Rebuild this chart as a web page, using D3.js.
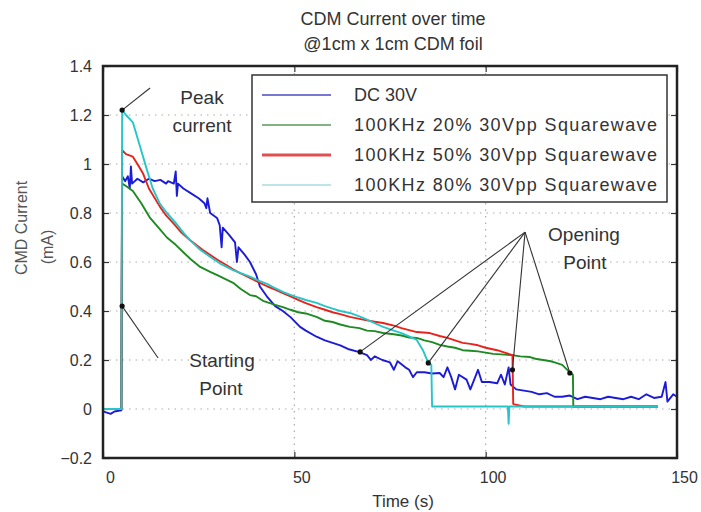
<!DOCTYPE html>
<html>
<head>
<meta charset="utf-8">
<script src="https://cdn.jsdelivr.net/npm/d3@7"></script>
<style>
  body { margin: 0; background: #fff; }
  svg { display: block; font-family: "Liberation Sans", Arial, sans-serif; }
</style>
</head>
<body>
<svg id="chart" width="701" height="512"></svg>
<script>
// ---------- data (time s, current mA) ----------
const dc30 = [
  [0,-0.01],[1,-0.015],[2,-0.02],[3,-0.01],[4.8,-0.005],[5,0.95],[5.8,0.93],[6.5,0.95],[7,0.9],[7.3,0.99],
  [7.6,0.92],[9,0.94],[10.5,0.925],[12,0.94],[13.5,0.93],[15,0.935],[16.5,0.92],[17,0.93],[18.5,0.92],[19,0.97],
  [19.3,0.87],[19.6,0.92],[21,0.9],[23,0.88],[25,0.86],[26.5,0.84],[27,0.82],[27.3,0.86],[28,0.8],[29.8,0.78],
  [30.5,0.75],[31,0.66],[31.3,0.74],[33,0.71],[34.5,0.68],[35,0.6],[35.4,0.66],[37,0.63],[38.4,0.6],[40,0.55],
  [41,0.5],[42.8,0.46],[45,0.42],[47,0.4],[49,0.375],[51.5,0.335],[53,0.32],[55.8,0.295],[58,0.28],[60,0.27],
  [62,0.26],[64,0.245],[67,0.232],[69,0.22],[70,0.2],[71,0.215],[73,0.2],[75,0.19],[76,0.16],[77,0.195],
  [79,0.17],[80,0.16],[81,0.13],[82,0.15],[84,0.15],[86,0.145],[88,0.147],[89,0.13],[90,0.17],[91,0.13],
  [92,0.08],[93,0.14],[95,0.12],[96,0.08],[97,0.12],[98,0.16],[99,0.11],[101,0.11],[103,0.105],[104,0.14],
  [105,0.1],[106,0.17],[106.5,0.1],[108,0.08],[110,0.075],[112,0.07],[114,0.06],[116,0.065],[118,0.05],[120,0.05],
  [122,0.055],[124,0.04],[126,0.05],[128,0.045],[130,0.04],[132,0.05],[134,0.045],[136,0.04],[138,0.05],[140,0.04],
  [142,0.06],[144,0.045],[146,0.05],[147,0.11],[147.5,0.03],[149,0.06],[150,0.05]
];
const sq20 = [
  [0,0],[4.8,0],[5,0.92],[6,0.91],[7.8,0.89],[10,0.84],[12.3,0.78],[14.5,0.74],[16.7,0.7],[19,0.67],
  [21,0.64],[23,0.61],[25.4,0.58],[28,0.56],[30,0.545],[34,0.515],[36,0.49],[38.4,0.465],[40,0.46],[42,0.44],
  [45,0.425],[47,0.416],[49,0.405],[51,0.395],[53,0.39],[55.8,0.376],[58,0.36],[60,0.355],[62,0.345],[64.5,0.335],
  [67,0.33],[69,0.32],[71,0.318],[73.2,0.31],[76,0.305],[78,0.3],[80,0.292],[82,0.29],[84,0.28],[86,0.273],
  [88,0.262],[90,0.255],[92,0.25],[94,0.24],[96,0.238],[98,0.235],[100,0.23],[102,0.225],[105,0.222],[107,0.22],
  [109,0.215],[111.6,0.212],[113,0.205],[115,0.2],[117,0.195],[118,0.19],[120,0.18],[121,0.165],[122,0.15],[122.8,0.14],
  [122.9,0.01],[130,0.01],[140,0.01],[145,0.01]
];
const sq50 = [
  [0,0],[4.8,0],[5,1.057],[6,1.04],[7.8,1.03],[9,1.0],[10.5,0.96],[12,0.9],[14.9,0.825],[16.5,0.79],
  [18.3,0.76],[20.5,0.72],[22.7,0.69],[26,0.65],[29.8,0.61],[32,0.59],[34,0.57],[36,0.553],[38.4,0.535],[41,0.515],
  [43,0.5],[45,0.487],[47,0.473],[49,0.46],[51,0.445],[53,0.432],[55.8,0.416],[58,0.405],[60,0.395],[62,0.387],
  [64.5,0.376],[67,0.368],[69,0.362],[71,0.356],[73.2,0.351],[76,0.34],[78,0.33],[80,0.322],[82,0.314],[85.4,0.31],
  [88,0.298],[90,0.29],[92,0.28],[94,0.27],[96,0.266],[98,0.26],[100,0.25],[103,0.24],[105,0.23],[107,0.22],
  [107.2,0.02],[110,0.01],[120,0.01],[130,0.01],[140,0.01],[145,0.01]
];
const sq80 = [
  [0,0],[4.8,0],[5,1.22],[6,1.2],[7.8,1.17],[9.7,1.07],[11.5,0.975],[13,0.9],[14.8,0.84],[16.7,0.8],
  [19,0.76],[21,0.72],[23,0.685],[25.4,0.65],[29,0.61],[31,0.59],[34,0.567],[36,0.555],[38.4,0.54],[41,0.522],
  [43,0.51],[45,0.493],[47,0.478],[49,0.466],[51,0.455],[53,0.445],[55.8,0.433],[58,0.42],[60,0.41],[62,0.4],
  [64.5,0.392],[67,0.378],[69,0.365],[71,0.35],[73.2,0.335],[76,0.32],[78,0.31],[80,0.296],[82,0.282],[83.6,0.24],
  [85,0.188],[85.8,0.18],[86,0.01],[90,0.01],[100,0.01],[105.8,0.01],[106,-0.06],[106.2,0.01],[110,0.01],[120,0.01],
  [130,0.01],[140,0.01],[145,0.01]
];

const seriesNames = ["DC 30V", "100KHz 20% 30Vpp Squarewave", "100KHz 50% 30Vpp Squarewave", "100KHz 80% 30Vpp Squarewave"];
const seriesData = [dc30, sq20, sq50, sq80];
const seriesColors = ["#1c1cd6", "#1e8a22", "#e8221c", "#26c6c8"];
const legendColors = ["#4a4ac4", "#5a9a5a", "#e05050", "#a8dcdc"];
const legendWidths = [1.5, 1.5, 3, 1.5];

const xTicks = [0, 50, 100, 150];
const yTicks = [-0.2, 0, 0.2, 0.4, 0.6, 0.8, 1, 1.2, 1.4];

// annotation points (time, mA)
const peakDot = [5, 1.22];
const peakTip = [12.3, 1.31];
const startDot = [5, 0.42];
const startTip = [14.4, 0.208];
const openApex = [110.3, 0.722];
const openDots = [[67.2, 0.233], [85, 0.188], [107, 0.16], [122, 0.147]];

// ---------- layout ----------
const svg = d3.select("#chart");
const x = d3.scaleLinear().domain([0, 150]).range([103, 677]);
const y = d3.scaleLinear().domain([-0.2, 1.4]).range([458, 66]);
const ink = "#333";

// title
svg.append("text").attr("x", 393).attr("y", 19).attr("text-anchor", "middle")
  .attr("dominant-baseline", "central").attr("font-size", 18).attr("fill", ink)
  .text("CDM Current over time");
svg.append("text").attr("x", 393).attr("y", 44).attr("text-anchor", "middle")
  .attr("dominant-baseline", "central").attr("font-size", 18).attr("fill", ink)
  .text("@1cm x 1cm CDM foil");

// grid
const grid = svg.append("g").attr("stroke", "#aaa").attr("stroke-width", 1.2)
  .attr("stroke-dasharray", "1.5,5");
grid.selectAll("line.h").data(yTicks.filter(d => d > -0.2 && d < 1.4)).join("line")
  .attr("x1", x(0)).attr("x2", x(150)).attr("y1", d => y(d)).attr("y2", d => y(d));
grid.selectAll("line.v").data([50, 100]).join("line")
  .attr("y1", y(-0.2)).attr("y2", y(1.4)).attr("x1", d => x(d)).attr("x2", d => x(d));

// axes
const yAxis = svg.append("g").attr("transform", `translate(${x(0)},0)`)
  .call(d3.axisLeft(y).tickValues(yTicks).tickSizeInner(-6).tickSizeOuter(0).tickPadding(11)
    .tickFormat(d => d3.format("~g")(d)));
const yAxisR = svg.append("g").attr("transform", `translate(${x(150)},0)`)
  .call(d3.axisRight(y).tickValues(yTicks).tickSizeInner(-6).tickSizeOuter(0).tickFormat(""));
const xAxis = svg.append("g").attr("transform", `translate(0,${y(-0.2)})`)
  .call(d3.axisBottom(x).tickValues(xTicks).tickSizeInner(-6).tickSizeOuter(0).tickPadding(14));
const xAxisT = svg.append("g").attr("transform", `translate(0,${y(1.4)})`)
  .call(d3.axisTop(x).tickValues(xTicks).tickSizeInner(-6).tickSizeOuter(0).tickFormat(""));
[yAxis, yAxisR, xAxis, xAxisT].forEach(a => {
  a.select(".domain").remove();
  a.selectAll("line").attr("stroke", ink).attr("stroke-width", 1.2);
  a.selectAll("text").attr("font-size", 16).attr("fill", ink)
    .attr("font-family", "Liberation Sans, Arial, sans-serif");
});
xAxis.selectAll("text").attr("dx", 7);

// series
const line = d3.line().x(d => x(d[0])).y(d => y(d[1]));
svg.append("g").selectAll("path").data(seriesData).join("path")
  .attr("d", line).attr("fill", "none")
  .attr("stroke", (d, i) => seriesColors[i]).attr("stroke-width", 1.9)
  .attr("stroke-linejoin", "round");

// frame
svg.append("rect").attr("x", x(0)).attr("y", y(1.4))
  .attr("width", x(150) - x(0)).attr("height", y(-0.2) - y(1.4))
  .attr("fill", "none").attr("stroke", "#222").attr("stroke-width", 2.5);

// legend
const lg = svg.append("g");
lg.append("rect").attr("x", 252).attr("y", 75).attr("width", 415).attr("height", 127)
  .attr("fill", "#fff").attr("stroke", ink).attr("stroke-width", 1.5);
const rows = lg.selectAll("g.row").data(seriesNames).join("g")
  .attr("transform", (d, i) => `translate(0,${95 + i * 30})`);
rows.append("line").attr("x1", 262).attr("x2", 331).attr("y1", 0).attr("y2", 0)
  .attr("stroke", (d, i) => legendColors[i]).attr("stroke-width", (d, i) => legendWidths[i]);
rows.append("text").attr("x", 354).attr("y", 0).attr("dominant-baseline", "central")
  .attr("font-size", 18).attr("fill", ink)
  .each(function (d, i) {
    if (i > 0) d3.select(this).attr("textLength", 303).attr("lengthAdjust", "spacing");
  })
  .text(d => d);

// annotations
const ann = svg.append("g").attr("stroke", ink).attr("stroke-width", 1.1);
ann.append("line").attr("x1", x(peakDot[0])).attr("y1", y(peakDot[1]))
  .attr("x2", x(peakTip[0])).attr("y2", y(peakTip[1]));
ann.append("line").attr("x1", x(startDot[0])).attr("y1", y(startDot[1]))
  .attr("x2", x(startTip[0])).attr("y2", y(startTip[1]));
ann.selectAll("line.open").data(openDots).join("line")
  .attr("x1", x(openApex[0])).attr("y1", y(openApex[1]))
  .attr("x2", d => x(d[0])).attr("y2", d => y(d[1]));
svg.append("g").selectAll("circle").data([peakDot, startDot, ...openDots]).join("circle")
  .attr("cx", d => x(d[0])).attr("cy", d => y(d[1])).attr("r", 2.6).attr("fill", "#111");

const annText = [
  ["Peak", 202, 97], ["current", 202, 125],
  ["Starting", 222, 360], ["Point", 221, 388],
  ["Opening", 584, 234], ["Point", 585, 262]
];
svg.append("g").selectAll("text").data(annText).join("text")
  .attr("x", d => d[1]).attr("y", d => d[2]).attr("text-anchor", "middle")
  .attr("dominant-baseline", "central").attr("font-size", 19).attr("fill", ink)
  .text(d => d[0]);

// axis labels
svg.append("text").attr("transform", "translate(21,228) rotate(-90)")
  .attr("text-anchor", "middle").attr("dominant-baseline", "central")
  .attr("font-size", 16).attr("fill", "#555").text("CMD Current");
svg.append("text").attr("transform", "translate(47,247) rotate(-90)")
  .attr("text-anchor", "middle").attr("dominant-baseline", "central")
  .attr("font-size", 16).attr("fill", "#555").text("(mA)");
svg.append("text").attr("x", 403).attr("y", 501).attr("text-anchor", "middle")
  .attr("dominant-baseline", "central").attr("font-size", 17).attr("fill", ink).text("Time (s)");
</script>
</body>
</html>
